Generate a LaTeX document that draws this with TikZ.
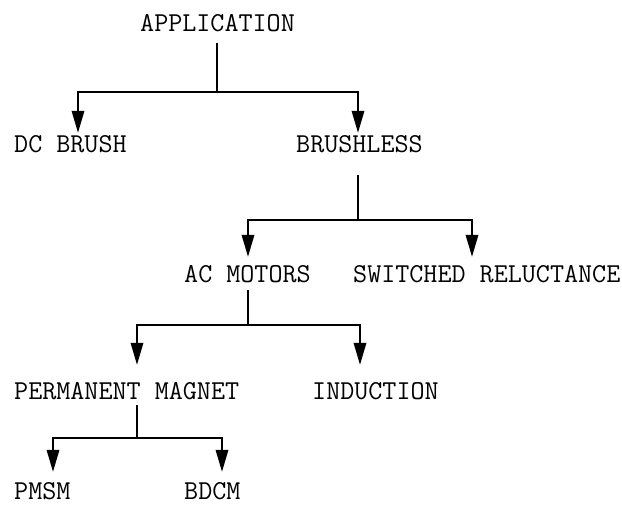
\documentclass[tikz,border=0pt]{standalone}
\usepackage{fontspec}
\usetikzlibrary{arrows.meta}
\begin{document}
\begin{tikzpicture}[x=1pt,y=-1pt,
  lbl/.style={font=\ttfamily\fontsize{27.3}{30}\selectfont, inner sep=0pt,
              text height=15pt, text depth=0pt, anchor=base west},
  link/.style={line width=1.8pt, line join=miter},
  arr/.style={link, -{Triangle[length=22pt,width=12.5pt]}}]
  \useasboundingbox (0,0) rectangle (622,505);

  % tree labels
  \node[lbl] (app)  at (140,32)  {APPLICATION};
  \node[lbl] (dcb)  at (14,153)  {DC BRUSH};
  \node[lbl] (brl)  at (296,153) {BRUSHLESS};
  \node[lbl] (acm)  at (184,283) {AC MOTORS};
  \node[lbl] (swr)  at (353,283) {SWITCHED RELUCTANCE};
  \node[lbl] (pm)   at (14,400)  {PERMANENT MAGNET};
  \node[lbl] (ind)  at (312,400) {INDUCTION};
  \node[lbl] (pmsm) at (14,499)  {PMSM};
  \node[lbl] (bdcm) at (184,499) {BDCM};

  % branch points
  \coordinate (j1) at (217,92);
  \coordinate (j2) at (358,220);
  \coordinate (j3) at (248,325);
  \coordinate (j4) at (137,438);

  % APPLICATION
  \draw[link, shorten <=11pt] (j1 |- app.south) -- (j1);
  \draw[arr, shorten >=5pt] (j1) -| (78,0 |- dcb.north);
  \draw[arr, shorten >=5pt] (j1) -| (358,0 |- brl.north);

  % BRUSHLESS
  \draw[link, shorten <=22pt] (j2 |- brl.south) -- (j2);
  \draw[arr, shorten >=11pt] (j2) -| (248,0 |- acm.north);
  \draw[arr, shorten >=11pt] (j2) -| (472,0 |- swr.north);

  % AC MOTORS
  \draw[link, shorten <=7pt] (j3 |- acm.south) -- (j3);
  \draw[arr, shorten >=20pt] (j3) -| (137,0 |- pm.north);
  \draw[arr, shorten >=20pt] (j3) -| (360,0 |- ind.north);

  % PERMANENT MAGNET
  \draw[link, shorten <=5pt] (j4 |- pm.south) -- (j4);
  \draw[arr, shorten >=12pt] (j4) -| (53,0 |- pmsm.north);
  \draw[arr, shorten >=12pt] (j4) -| (222,0 |- bdcm.north);
\end{tikzpicture}
\end{document}
